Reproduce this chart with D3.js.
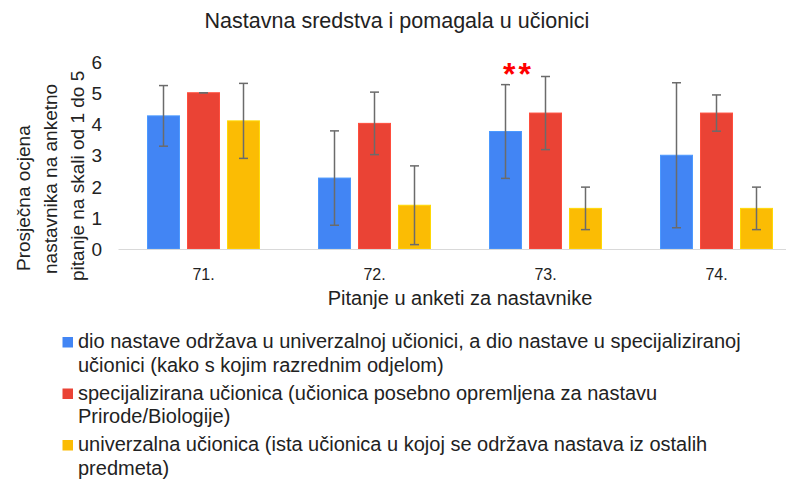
<!DOCTYPE html>
<html><head><meta charset="utf-8">
<script src="https://cdn.jsdelivr.net/npm/d3@7"></script>
<style>body{margin:0;background:#fff}svg{display:block}</style>
</head><body><div id="chart"></div>
<script>
const categories = ["71.", "72.", "73.", "74."];
const seriesNames = [
  "dio nastave održava u univerzalnoj učionici, a dio nastave u specijaliziranoj|učionici (kako s kojim razrednim odjelom)",
  "specijalizirana učionica (učionica posebno opremljena za nastavu|Prirode/Biologije)",
  "univerzalna učionica (ista učionica u kojoj se održava nastava iz ostalih|predmeta)"
];
const seriesColors = ["#4285F4", "#EA4335", "#FBBC04"];
const meanMixed = [4.26, 2.27, 3.76, 3.00];
const meanSpecial = [5.00, 4.02, 4.35, 4.35];
const meanUniversal = [4.10, 1.40, 1.30, 1.30];
const sdMixed = [0.97, 1.51, 1.50, 2.32];
const sdSpecial = [0.00, 1.00, 1.17, 0.58];
const sdUniversal = [1.20, 1.26, 0.68, 0.68];
const yTicks = [0, 1, 2, 3, 4, 5, 6];
const significance = [{cat: "73.", label: "**"}];
const title = "Nastavna sredstva i pomagala u učionici";
const xTitle = "Pitanje u anketi za nastavnike";
const yTitle = ["Prosječna ocjena", "nastavnika na anketno", "pitanje na skali od 1 do 5"];

const FONT = "'Liberation Sans', Arial, sans-serif";
const means = [meanMixed, meanSpecial, meanUniversal];
const sds = [sdMixed, sdSpecial, sdUniversal];
const data = [];
categories.forEach((c, i) => means.forEach((m, s) => data.push({cat: c, s, v: m[i], e: sds[s][i]})));

const W = 786, H = 480;
const svg = d3.select("#chart").append("svg").attr("width", W).attr("height", H)
  .style("font-family", FONT);
const txt = sel => sel.style("font-family", FONT).style("fill", "#222");

const x = d3.scaleBand().domain(categories).range([118, 802]).paddingInner(0).paddingOuter(0);
const x1 = d3.scaleBand().domain([0, 1, 2]).range([x.bandwidth()/2 - 56, x.bandwidth()/2 + 56]).paddingInner(0.2).paddingOuter(0);
const y = d3.scaleLinear().domain([0, 6]).range([249, 61.5]);

// title
svg.append("text").attr("x", 397).attr("y", 28).attr("text-anchor", "middle").style("font-size", "21.5px").call(txt).text(title);

// y axis labels
const ya = svg.append("g").attr("transform", "translate(102,0)")
  .call(d3.axisLeft(y).tickValues(yTicks).tickSize(0).tickPadding(0).tickFormat(d3.format("d")));
ya.select(".domain").remove();
ya.selectAll("text").style("font-size", "19px").call(txt).attr("dy", "0.35em");

// y title
const yStarts = [271, 274, 281];
yTitle.forEach((t, i) => {
  svg.append("text").attr("transform", `translate(${30 + i * 27},${yStarts[i]}) rotate(-90)`)
    .attr("text-anchor", "start").style("font-size", "19px").call(txt).text(t);
});

// bars
const g = svg.append("g");
g.selectAll("rect.bar").data(data).join("rect")
  .attr("x", d => x(d.cat) + x1(d.s)).attr("width", x1.bandwidth())
  .attr("y", d => y(d.v)).attr("height", d => y(0) - y(d.v))
  .attr("fill", d => seriesColors[d.s])
  .attr("stroke", d => d3.color(seriesColors[d.s]).brighter(0.4)).attr("stroke-width", 1);

// baseline axis
const xa = svg.append("g").attr("transform", `translate(0,${y(0)})`)
  .call(d3.axisBottom(x).tickSize(0).tickPadding(20));
xa.select(".domain").attr("stroke", "#d9d9d9").attr("stroke-width", 1.2);
xa.selectAll("text").style("font-size", "16px").call(txt);

// error bars
const eg = svg.append("g").attr("stroke", "#6b6b6b").attr("stroke-width", 1.5);
data.forEach(d => {
  const cx = x(d.cat) + x1(d.s) + x1.bandwidth() / 2;
  const t = y(d.v + d.e), b = y(d.v - d.e);
  eg.append("line").attr("x1", cx).attr("x2", cx).attr("y1", t).attr("y2", b);
  eg.append("line").attr("x1", cx - 4.5).attr("x2", cx + 4.5).attr("y1", t).attr("y2", t);
  eg.append("line").attr("x1", cx - 4.5).attr("x2", cx + 4.5).attr("y1", b).attr("y2", b);
});

// significance
significance.forEach(s => {
  svg.append("text").attr("x", x(s.cat) + x.bandwidth()/2 - 27).attr("y", 85)
    .attr("text-anchor", "middle").style("font-family", FONT)
    .style("font-size", "32px").style("font-weight", "bold").style("letter-spacing", "3px").style("fill", "#ff0000").text(s.label);
});

// x title
svg.append("text").attr("x", 460).attr("y", 305).attr("text-anchor", "middle").style("font-size", "20px").call(txt).text(xTitle);

// legend
let ly = 348;
const lg = svg.append("g");
seriesNames.forEach((n, i) => {
  const lines = n.split("|");
  lg.append("rect").attr("x", 62.5).attr("y", ly - 11).attr("width", 10.5).attr("height", 10.5).attr("fill", seriesColors[i]);
  lines.forEach((l, j) => {
    lg.append("text").attr("x", 78).attr("y", ly + j * 23.5).style("font-size", "20px").call(txt).text(l);
  });
  ly += lines.length * 23.5 + 4.5;
});
</script></body></html>
